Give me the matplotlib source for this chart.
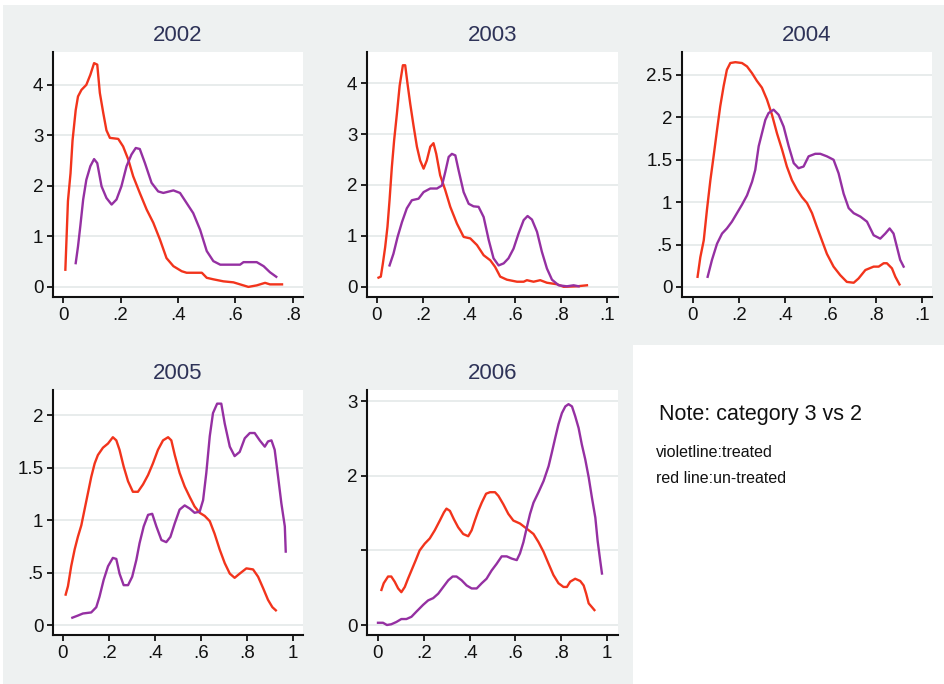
# Kernel density panels by year, treated vs un-treated

import matplotlib.pyplot as plt
from matplotlib.patches import Rectangle

plt.rcParams['font.family'] = ['Liberation Sans', 'DejaVu Sans']

years = ['2002', '2003', '2004', '2005', '2006']

# 2002
x_red_2002 = [0.008, 0.017, 0.026, 0.033, 0.044, 0.052, 0.064, 0.081, 0.095, 0.108, 0.119, 0.128,
              0.14, 0.151, 0.163, 0.192, 0.209, 0.227, 0.244, 0.267, 0.291, 0.314, 0.337, 0.36,
              0.384, 0.413, 0.43, 0.483, 0.5, 0.523, 0.558, 0.593, 0.616, 0.645, 0.674, 0.703,
              0.72, 0.762]
y_red_2002 = [0.34, 1.7, 2.25, 2.9, 3.5, 3.77, 3.9, 4.0, 4.2, 4.43, 4.4, 3.84,
              3.44, 3.1, 2.95, 2.93, 2.78, 2.52, 2.19, 1.86, 1.53, 1.27, 0.94, 0.57,
              0.41, 0.31, 0.28, 0.28, 0.18, 0.15, 0.11, 0.09, 0.05, 0.0, 0.03, 0.08,
              0.05, 0.05]
x_vio_2002 = [0.044, 0.052, 0.06, 0.07, 0.081, 0.095, 0.108, 0.119, 0.134, 0.151, 0.169, 0.186,
              0.203, 0.221, 0.238, 0.253, 0.267, 0.285, 0.308, 0.331, 0.349, 0.384, 0.407, 0.43,
              0.453, 0.477, 0.5, 0.523, 0.547, 0.593, 0.616, 0.628, 0.674, 0.698, 0.72, 0.742]
y_vio_2002 = [0.47, 0.8, 1.2, 1.73, 2.12, 2.39, 2.53, 2.45, 1.99, 1.76, 1.63, 1.73,
              1.99, 2.39, 2.62, 2.75, 2.73, 2.45, 2.06, 1.89, 1.86, 1.91, 1.86, 1.66,
              1.46, 1.13, 0.71, 0.51, 0.44, 0.44, 0.44, 0.49, 0.49, 0.41, 0.29, 0.2]

# 2003
x_red_2003 = [0.007, 0.017, 0.026, 0.036, 0.046, 0.055, 0.065, 0.075, 0.087, 0.099, 0.113, 0.123,
              0.133, 0.145, 0.159, 0.174, 0.188, 0.203, 0.217, 0.232, 0.246, 0.258, 0.275, 0.297,
              0.319, 0.348, 0.377, 0.406, 0.435, 0.464, 0.493, 0.514, 0.536, 0.565, 0.609, 0.638,
              0.652, 0.681, 0.71, 0.739, 0.783, 0.812, 0.87, 0.913]
y_red_2003 = [0.18, 0.2, 0.46, 0.78, 1.18, 1.7, 2.35, 2.88, 3.4, 3.95, 4.35, 4.35,
              3.99, 3.59, 3.17, 2.75, 2.48, 2.32, 2.48, 2.75, 2.82, 2.61, 2.19, 1.9,
              1.57, 1.24, 0.98, 0.95, 0.82, 0.62, 0.52, 0.39, 0.2, 0.14, 0.1, 0.1,
              0.13, 0.1, 0.13, 0.08, 0.05, 0.0, 0.01, 0.03]
x_vio_2003 = [0.055, 0.072, 0.09, 0.109, 0.13, 0.152, 0.181, 0.203, 0.232, 0.261, 0.283, 0.297,
              0.312, 0.326, 0.341, 0.355, 0.377, 0.399, 0.42, 0.442, 0.464, 0.486, 0.507, 0.529,
              0.551, 0.572, 0.594, 0.616, 0.638, 0.655, 0.674, 0.696, 0.717, 0.739, 0.761, 0.79,
              0.826, 0.855, 0.877]
y_vio_2003 = [0.42, 0.65, 0.98, 1.27, 1.54, 1.7, 1.73, 1.86, 1.93, 1.93, 1.99, 2.25,
              2.55, 2.61, 2.58, 2.29, 1.86, 1.63, 1.58, 1.57, 1.37, 0.92, 0.56, 0.42,
              0.46, 0.56, 0.75, 1.05, 1.31, 1.39, 1.32, 1.08, 0.69, 0.36, 0.14, 0.03,
              0.01, 0.03, 0.01]

# 2004
x_red_2004 = [0.02, 0.032, 0.047, 0.061, 0.076, 0.09, 0.105, 0.119, 0.134, 0.148, 0.163, 0.185,
              0.214, 0.236, 0.258, 0.279, 0.301, 0.323, 0.345, 0.367, 0.389, 0.41, 0.432, 0.454,
              0.476, 0.498, 0.52, 0.541, 0.563, 0.585, 0.614, 0.643, 0.672, 0.702, 0.723, 0.753,
              0.789, 0.811, 0.833, 0.847, 0.869, 0.884, 0.902]
y_red_2004 = [0.12, 0.35, 0.55, 0.91, 1.26, 1.54, 1.85, 2.13, 2.37, 2.56, 2.64, 2.65,
              2.64, 2.6, 2.52, 2.43, 2.35, 2.21, 2.03, 1.81, 1.62, 1.42, 1.26, 1.15,
              1.06, 0.99, 0.87, 0.71, 0.55, 0.39, 0.24, 0.14, 0.06, 0.05, 0.1, 0.2,
              0.24, 0.24, 0.28, 0.28, 0.22, 0.12, 0.03]
x_vio_2004 = [0.064, 0.083, 0.105, 0.127, 0.148, 0.17, 0.192, 0.214, 0.236, 0.258, 0.272, 0.287,
              0.301, 0.316, 0.33, 0.352, 0.374, 0.396, 0.418, 0.44, 0.461, 0.483, 0.505, 0.534,
              0.556, 0.585, 0.614, 0.636, 0.658, 0.68, 0.702, 0.731, 0.76, 0.789, 0.818, 0.84,
              0.859, 0.876, 0.891, 0.905, 0.92]
y_vio_2004 = [0.12, 0.32, 0.51, 0.63, 0.69, 0.77, 0.87, 0.97, 1.08, 1.24, 1.38, 1.66,
              1.81, 1.97, 2.05, 2.09, 2.03, 1.89, 1.66, 1.46, 1.4, 1.42, 1.54, 1.57,
              1.57, 1.54, 1.5, 1.34, 1.1, 0.93, 0.87, 0.83, 0.77, 0.61, 0.57, 0.63,
              0.69, 0.63, 0.47, 0.32, 0.24]

# 2005
x_red_2005 = [0.012, 0.022, 0.036, 0.051, 0.065, 0.08, 0.094, 0.109, 0.123, 0.138, 0.152, 0.174,
              0.196, 0.217, 0.232, 0.246, 0.264, 0.283, 0.304, 0.326, 0.348, 0.37, 0.391, 0.413,
              0.435, 0.457, 0.471, 0.486, 0.507, 0.529, 0.551, 0.572, 0.594, 0.616, 0.638, 0.659,
              0.681, 0.703, 0.725, 0.746, 0.768, 0.797, 0.826, 0.848, 0.87, 0.891, 0.91, 0.925]
y_red_2005 = [0.29, 0.37, 0.56, 0.72, 0.84, 0.95, 1.1, 1.26, 1.41, 1.54, 1.62, 1.69,
              1.73, 1.79, 1.76, 1.67, 1.51, 1.37, 1.27, 1.27, 1.34, 1.43, 1.54, 1.67,
              1.76, 1.79, 1.76, 1.62, 1.45, 1.32, 1.22, 1.13, 1.07, 1.04, 0.99, 0.87,
              0.72, 0.59, 0.49, 0.45, 0.49, 0.54, 0.53, 0.46, 0.35, 0.24, 0.17, 0.14]
x_vio_2005 = [0.041, 0.065, 0.087, 0.123, 0.145, 0.159, 0.177, 0.196, 0.217, 0.232, 0.246, 0.264,
              0.283, 0.301, 0.319, 0.333, 0.351, 0.37, 0.388, 0.406, 0.428, 0.449, 0.467, 0.486,
              0.507, 0.529, 0.551, 0.572, 0.594, 0.609, 0.623, 0.638, 0.652, 0.67, 0.688, 0.703,
              0.725, 0.746, 0.768, 0.79, 0.812, 0.833, 0.855, 0.877, 0.891, 0.906, 0.92, 0.935,
              0.949, 0.964, 0.968]
y_vio_2005 = [0.07, 0.09, 0.11, 0.12, 0.17, 0.27, 0.43, 0.56, 0.64, 0.63, 0.49, 0.38,
              0.38, 0.46, 0.62, 0.78, 0.94, 1.05, 1.06, 0.94, 0.81, 0.79, 0.84, 0.97,
              1.1, 1.14, 1.11, 1.07, 1.08, 1.19, 1.45, 1.8, 2.02, 2.11, 2.11, 1.92,
              1.7, 1.61, 1.65, 1.78, 1.83, 1.83, 1.76, 1.7, 1.75, 1.76, 1.67, 1.41,
              1.16, 0.94, 0.7]

# 2006
x_red_2006 = [0.015, 0.025, 0.044, 0.058, 0.073, 0.088, 0.102, 0.117, 0.131, 0.146, 0.165, 0.182,
              0.204, 0.226, 0.248, 0.27, 0.288, 0.299, 0.314, 0.331, 0.35, 0.372, 0.394, 0.409,
              0.423, 0.438, 0.453, 0.472, 0.489, 0.511, 0.526, 0.547, 0.569, 0.591, 0.62, 0.65,
              0.679, 0.701, 0.723, 0.745, 0.766, 0.788, 0.81, 0.825, 0.839, 0.861, 0.883, 0.898,
              0.909, 0.92, 0.934, 0.945]
y_red_2006 = [0.47, 0.56, 0.65, 0.65, 0.58, 0.49, 0.44, 0.51, 0.62, 0.73, 0.87, 1.0,
              1.09, 1.16, 1.27, 1.4, 1.51, 1.56, 1.53, 1.42, 1.31, 1.22, 1.19, 1.27,
              1.4, 1.53, 1.64, 1.76, 1.78, 1.78, 1.73, 1.62, 1.49, 1.4, 1.36, 1.29,
              1.22, 1.11, 0.98, 0.82, 0.67, 0.56, 0.51, 0.51, 0.58, 0.62, 0.59, 0.53,
              0.42, 0.29, 0.24, 0.2]
x_vio_2006 = [0.0, 0.022, 0.039, 0.058, 0.08, 0.102, 0.124, 0.146, 0.168, 0.197, 0.219, 0.241,
              0.263, 0.285, 0.307, 0.326, 0.343, 0.365, 0.387, 0.409, 0.431, 0.453, 0.474, 0.496,
              0.518, 0.54, 0.562, 0.584, 0.606, 0.62, 0.635, 0.65, 0.664, 0.679, 0.701, 0.723,
              0.745, 0.759, 0.774, 0.788, 0.803, 0.818, 0.832, 0.847, 0.861, 0.876, 0.89, 0.905,
              0.92, 0.934, 0.949, 0.959, 0.97, 0.978]
y_vio_2006 = [0.03, 0.03, 0.0, 0.01, 0.04, 0.08, 0.08, 0.11, 0.18, 0.27, 0.33, 0.36,
              0.42, 0.51, 0.6, 0.65, 0.65, 0.6, 0.53, 0.49, 0.49, 0.56, 0.62, 0.73,
              0.82, 0.92, 0.92, 0.89, 0.87, 0.96, 1.11, 1.31, 1.49, 1.64, 1.78, 1.93,
              2.13, 2.31, 2.51, 2.69, 2.84, 2.93, 2.96, 2.93, 2.8, 2.64, 2.42, 2.22,
              1.98, 1.71, 1.44, 1.13, 0.87, 0.69]

# axis ticks and labels (Stata style)
xticks_short = [0, 0.2, 0.4, 0.6, 0.8]
xlabels_short = ['0', '.2', '.4', '.6', '.8']
xticks_full = [0, 0.2, 0.4, 0.6, 0.8, 1.0]
xlabels_dot1 = ['0', '.2', '.4', '.6', '.8', '.1']
xlabels_one = ['0', '.2', '.4', '.6', '.8', '1']
yticks_04 = [0, 1, 2, 3, 4]
ylabels_04 = ['0', '1', '2', '3', '4']
yticks_2004 = [0, 0.5, 1, 1.5, 2, 2.5]
ylabels_2004 = ['0', '.5', '1', '1.5', '2', '2.5']
yticks_2005 = [0, 0.5, 1, 1.5, 2]
ylabels_2005 = ['0', '.5', '1', '1.5', '2']
yticks_2006 = [0, 1, 2, 3]
ylabels_2006 = ['0', '', '2', '3']

W, H = 944, 684
BG = '#eef1f1'
RED = '#f2341c'
VIOLET = '#9530a2'
TITLE_COLOR = '#2e3358'


def px_rect(left, top, right, bottom):
    # pixel box -> figure fraction rect
    return [left / W, 1 - bottom / H, (right - left) / W, (bottom - top) / H]


fig = plt.figure(figsize=(W / 100, H / 100), dpi=100)
fig.patch.set_facecolor('white')
fig.add_artist(Rectangle((3 / W, 0), 1 - 3 / W, 1 - 5 / H, transform=fig.transFigure,
                         facecolor=BG, edgecolor='none', zorder=0))
fig.add_artist(Rectangle((633 / W, 0), 1 - 633 / W, 1 - 345 / H, transform=fig.transFigure,
                         facecolor='white', edgecolor='none', zorder=0))

panels = [
    (px_rect(53, 52, 303, 297), (-0.035, 0.835), (-0.2, 4.65),
     x_red_2002, y_red_2002, x_vio_2002, y_vio_2002,
     xticks_short, xlabels_short, yticks_04, ylabels_04),
    (px_rect(367, 52, 618, 297), (-0.043, 1.048), (-0.2, 4.61),
     x_red_2003, y_red_2003, x_vio_2003, y_vio_2003,
     xticks_full, xlabels_dot1, yticks_04, ylabels_04),
    (px_rect(682, 52, 932, 297), (-0.048, 1.044), (-0.118, 2.77),
     x_red_2004, y_red_2004, x_vio_2004, y_vio_2004,
     xticks_full, xlabels_dot1, yticks_2004, ylabels_2004),
    (px_rect(53, 390, 303, 635), (-0.043, 1.043), (-0.095, 2.24),
     x_red_2005, y_red_2005, x_vio_2005, y_vio_2005,
     xticks_full, xlabels_one, yticks_2005, ylabels_2005),
    (px_rect(367, 390, 618, 635), (-0.048, 1.048), (-0.134, 3.15),
     x_red_2006, y_red_2006, x_vio_2006, y_vio_2006,
     xticks_full, xlabels_one, yticks_2006, ylabels_2006),
]

for year, (rect, xlim, ylim, xr, yr, xv, yv, xt, xl, yt, yl) in zip(years, panels):
    ax = fig.add_axes(rect)
    ax.set_facecolor('white')
    for y in yt:
        ax.axhline(y, color='#e6eaea', lw=1.3, zorder=1)
    ax.plot(xr, yr, color=RED, lw=1.7, zorder=3)
    ax.plot(xv, yv, color=VIOLET, lw=1.7, zorder=3)
    ax.set_xlim(*xlim)
    ax.set_ylim(*ylim)
    ax.set_xticks(xt)
    ax.set_xticklabels(xl)
    ax.set_yticks(yt)
    ax.set_yticklabels(yl)
    for side in ['top', 'right']:
        ax.spines[side].set_visible(False)
    for side in ['left', 'bottom']:
        ax.spines[side].set_linewidth(1.5)
        ax.spines[side].set_color('#111111')
    ax.tick_params(direction='out', length=4, width=1.3, labelsize=13.5,
                   colors='#111111', pad=3)
    ax.set_title(year, fontsize=16, color=TITLE_COLOR, pad=8)

fig.text(659 / W, 1 - 420 / H, 'Note: category 3 vs 2', fontsize=15.5, color='#111111')
fig.text(656 / W, 1 - 457 / H, 'violetline:treated', fontsize=11.5, color='#111111')
fig.text(656 / W, 1 - 483 / H, 'red line:un-treated', fontsize=11.5, color='#111111')

plt.savefig('out.png', dpi=100, facecolor=fig.get_facecolor())
